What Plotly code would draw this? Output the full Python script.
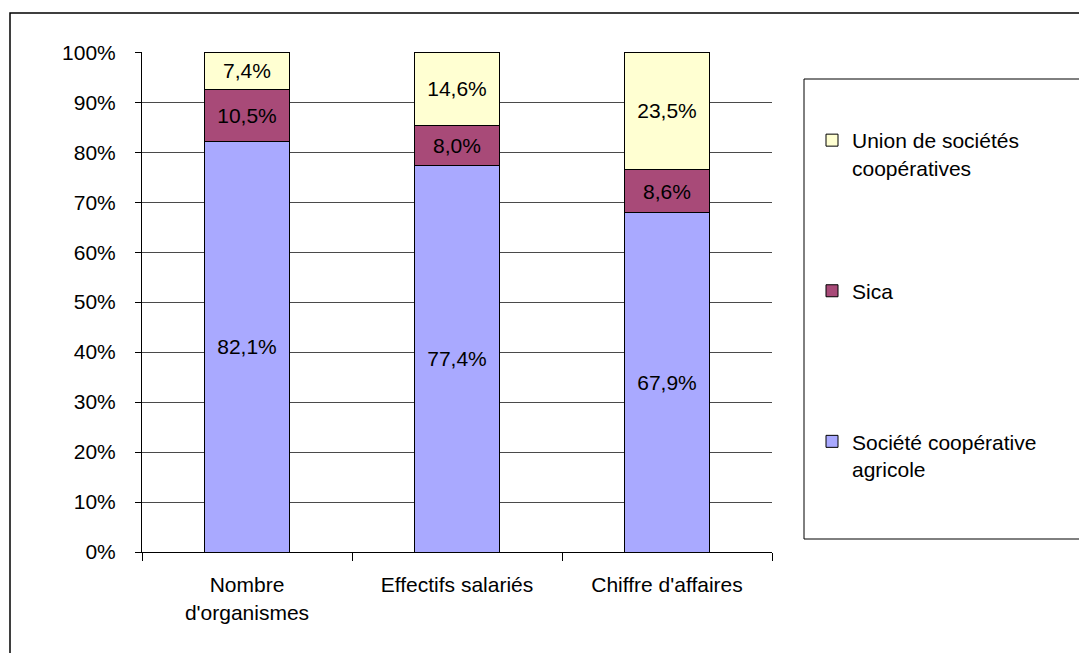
import plotly.graph_objects as go

categories = ["Nombre<br>d'organismes", "Effectifs salariés", "Chiffre d'affaires"]
series_names = ["Société coopérative<br>agricole", "Sica<br> ", "Union de sociétés<br>coopératives"]
scoop_agricole = [82.1, 77.4, 67.9]
sica = [10.5, 8.0, 8.6]
union_scoop = [7.4, 14.6, 23.5]
y_ticks = [0, 10, 20, 30, 40, 50, 60, 70, 80, 90, 100]
y_tick_labels = ["0%", "10%", "20%", "30%", "40%", "50%", "60%", "70%", "80%", "90%", "100%"]

colors = ["#A9A9FF", "#A84A78", "#FFFFD2"]
legend_ranks = [3, 2, 1]
FONT = "Liberation Sans, Arial, sans-serif"
FS = 21

OFF = 8  # page body margin
W, H = 1087 - OFF, 653 - OFF
L, R, T, B = 142 - OFF, 772 - OFF, 52 - OFF, 552 - OFF

fig = go.Figure()
for name, vals, col, rk in zip(series_names, [scoop_agricole, sica, union_scoop], colors, legend_ranks):
    fig.add_trace(go.Bar(
        x=categories, y=vals, name=name, legendgroup=name, legendrank=rk,
        marker=dict(color=col, line=dict(color="#000000", width=1)),
        texttemplate="%{y:.1f}%", textposition="inside", insidetextanchor="middle",
        textangle=0,
        textfont=dict(family=FONT, size=FS, color="#000000"),
        constraintext="none",
        hoverinfo="skip",
    ))

def px_x(p):
    return (p - OFF - L) / (R - L)

def px_y(p):
    return (B - (p - OFF)) / (B - T)

fig.update_layout(
    width=W, height=H,
    barmode="stack", bargap=0.595,
    separators=", ",
    paper_bgcolor="#FFFFFF", plot_bgcolor="#FFFFFF",
    font=dict(family=FONT, size=FS, color="#000000"),
    margin=dict(l=L, r=W - R, t=T, b=H - B, pad=0),
    showlegend=True,
    legend=dict(
        x=px_x(812), y=px_y(120), xanchor="left", yanchor="top",
        traceorder="grouped", tracegroupgap=93, valign="top",
        font=dict(family=FONT, size=FS, color="#000000"),
        bgcolor="rgba(0,0,0,0)", borderwidth=0,
        itemwidth=30,
    ),
    xaxis=dict(
        showline=True, linecolor="#000000", linewidth=1,
        ticks="outside", tickson="boundaries", ticklen=8, tickcolor="#000000",
        tickfont=dict(family=FONT, size=FS, color="#000000"),
        ticklabelstandoff=14,
        showgrid=False, fixedrange=True,
    ),
    yaxis=dict(
        range=[0, 100.05], tickvals=y_ticks, ticktext=y_tick_labels,
        showline=True, linecolor="#000000", linewidth=1,
        ticks="outside", ticklen=6, tickcolor="#000000",
        ticklabelstandoff=15,
        showgrid=True, gridcolor="#4a4a4a", gridwidth=1,
        tickfont=dict(family=FONT, size=FS, color="#000000"),
        zeroline=False, fixedrange=True,
    ),
    shapes=[
        dict(type="rect", xref="paper", yref="paper",
             x0=px_x(10), x1=px_x(1090), y0=px_y(656), y1=px_y(13),
             line=dict(color="#000000", width=1.5), fillcolor="rgba(0,0,0,0)", layer="below"),
        dict(type="rect", xref="paper", yref="paper",
             x0=px_x(804), x1=px_x(1086), y0=px_y(539), y1=px_y(79),
             line=dict(color="#000000", width=1), fillcolor="rgba(0,0,0,0)"),
    ],
)

fig.write_html("out.html")
